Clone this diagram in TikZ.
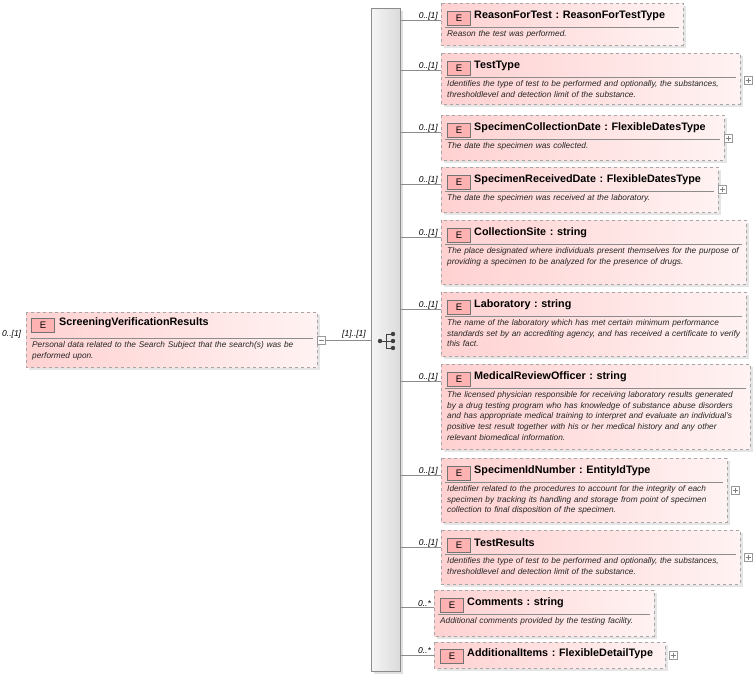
\documentclass[tikz,border=0pt]{standalone}
\usepackage{fontspec}
\setmainfont{Liberation Sans}
\hyphenpenalty=10000
\exhyphenpenalty=10000
\begin{document}
\begin{tikzpicture}[x=1pt,y=-1pt,
  ebox/.style={draw=black!35,dashed,left color=red!18,right color=red!5,line width=0.6pt},
  badge/.style={draw=black!55,fill=red!30,line width=0.5pt,inner sep=0pt,minimum width=23pt,minimum height=14pt,font=\fontsize{9.5}{10}\selectfont},
  title/.style={font=\fontsize{10.8}{12}\selectfont\bfseries,anchor=west,inner sep=0pt},
  desc/.style={font=\fontsize{8.3}{10.8}\selectfont\itshape,anchor=north west,inner sep=0pt,align=left,text=black!85},
  card/.style={font=\fontsize{8.5}{10}\selectfont\itshape,anchor=south east,inner sep=1pt},
  conn/.style={draw=black!45,line width=0.6pt},
  plusbox/.style={draw=black!40,fill=white,line width=0.5pt,minimum size=8pt,inner sep=0pt}
]
\useasboundingbox (0,0) rectangle (754,675);
\newcommand\elem[9]{%
  \fill[black!10] (#2+3,#3+3) rectangle (#4+3,#5+3);
  \path[ebox] (#2,#3) rectangle (#4,#5);
  \node[inner sep=0pt] (#1) at ({(#2+#4)/2},{(#3+#5)/2}) {};
  \coordinate (#1-c) at (#2,#3+17);
  \node[badge] (#1-b) at (#2+18,#3+15) {E};
  \node[title] (#1-t) at (#2+33,#3+13) {#6};
  \draw[black!45,line width=0.6pt] (#2+4,#3+#8) -- (#4-4,#3+#8);
  \pgfmathsetmacro\tw{#4-#2-10}
  \node[desc,text width=\tw pt] (#1-d) at (#2+6,#3+#8+3) {#7};
  \node[card] (#1-k) at (#2-2,#3+18) {#9};
  \draw[conn] (bar.east |- #1-c) -- (#1-c);
}
% sequence bar
\fill[black!12] (374,11) rectangle (403,674);
\node[draw=black!45,left color=black!4,right color=black!14,minimum width=29pt,minimum height=663pt,inner sep=0pt,anchor=north west] (bar) at (371,8) {};
% compositor icon
\node[inner sep=0pt,minimum size=14pt] (seq) at (387,341) {};
\fill[black!75] (380,341) circle (2.2);
\draw[black!75,line width=0.9pt] (380,341) -- (386,341) (386,334) -- (386,348) (386,334) -- (392,334) (386,341) -- (392,341) (386,348) -- (392,348);
\fill[black!75] (393,334) circle (2.2) (393,341) circle (2.2) (393,348) circle (2.2);
% root
\fill[black!10] (29,315) rectangle (320,370);
\path[ebox] (26,312) rectangle (317,367);
\node[inner sep=0pt] (root) at (171,340) {};
\node[badge] (root-b) at (43,325) {E};
\node[title] (root-t) at (59,323) {ScreeningVerificationResults};
\draw[black!45,line width=0.6pt] (30,338) -- (313,338);
\node[desc,text width=281pt] (root-d) at (32,341) {Personal data related to the Search Subject that the search(s) was be performed upon.};
\node[font=\fontsize{8.5}{10}\selectfont\itshape,anchor=west,inner sep=0pt] (root-k) at (2,334) {0..[1]};
\node[plusbox] (root-m) at (321,340) {};
\draw[black!50,line width=0.5pt] (318.5,340) -- (323.5,340);
\draw[conn] (root-m.east) -- (bar.west |- root-m);
\node[font=\fontsize{8.5}{10}\selectfont\itshape,anchor=south,inner sep=1pt] (rk) at (354,339) {[1]..[1]};
% children
\elem{e1}{441}{3}{683}{45}{ReasonForTest\,\,:\,\,ReasonForTestType}{Reason the test was performed.}{24}{0..[1]}
\elem{e2}{441}{53}{740}{104}{TestType}{Identifies the type of test to be performed and optionally, the substances, thresholdlevel and detection limit of the substance.}{24}{0..[1]}
\elem{e3}{441}{115}{724}{160}{SpecimenCollectionDate\,\,:\,\,FlexibleDatesType}{The date the specimen was collected.}{24}{0..[1]}
\elem{e4}{441}{167}{718}{212}{SpecimenReceivedDate\,\,:\,\,FlexibleDatesType}{The date the specimen was received at the laboratory.}{24}{0..[1]}
\elem{e5}{441}{220}{746}{284}{CollectionSite\,\,:\,\,string}{The place designated where individuals present themselves for the purpose of providing a specimen to be analyzed for the presence of drugs.}{24}{0..[1]}
\elem{e6}{441}{292}{746}{356}{Laboratory\,\,:\,\,string}{The name of the laboratory which has met certain minimum performance standards set by an accrediting agency, and has received a certificate to verify this fact.}{24}{0..[1]}
\elem{e7}{441}{364}{750}{449}{MedicalReviewOfficer\,\,:\,\,string}{The licensed physician responsible for receiving laboratory results generated by a drug testing program who has knowledge of substance abuse disorders and has appropriate medical training to interpret and evaluate an individual's positive test result together with his or her medical history and any other relevant biomedical information.}{24}{0..[1]}
\elem{e8}{441}{458}{727}{522}{SpecimenIdNumber\,\,:\,\,EntityIdType}{Identifier related to the procedures to account for the integrity of each specimen by tracking its handling and storage from point of specimen collection to final disposition of the specimen.}{24}{0..[1]}
\elem{e9}{441}{530}{740}{584}{TestResults}{Identifies the type of test to be performed and optionally, the substances, thresholdlevel and detection limit of the substance.}{24}{0..[1]}
\elem{e10}{434}{590}{654}{636}{Comments\,\,:\,\,string}{Additional comments provided by the testing facility.}{24}{0..*}
% additional items (no description)
\fill[black!10] (437,645) rectangle (668,671);
\path[ebox] (434,642) rectangle (665,668);
\node[inner sep=0pt] (e11) at (549,655) {};
\coordinate (e11-c) at (434,655);
\node[badge] (e11-b) at (452,656) {E};
\node[title] (e11-t) at (467,654) {AdditionalItems\,\,:\,\,FlexibleDetailType};
\node[card] (e11-k) at (432,655) {0..*};
\draw[conn] (bar.east |- e11-c) -- (e11-c);
% plus boxes
\foreach \n/\x/\y in {p2/748/80,p3/728/138,p4/722/189,p8/735/490,p9/748/557,p11/673/655}{
  \node[plusbox] (\n) at (\x,\y) {};
  \draw[black!50,line width=0.5pt] (\x-2.5,\y) -- (\x+2.5,\y) (\x,\y-2.5) -- (\x,\y+2.5);
}
\end{tikzpicture}
\end{document}
